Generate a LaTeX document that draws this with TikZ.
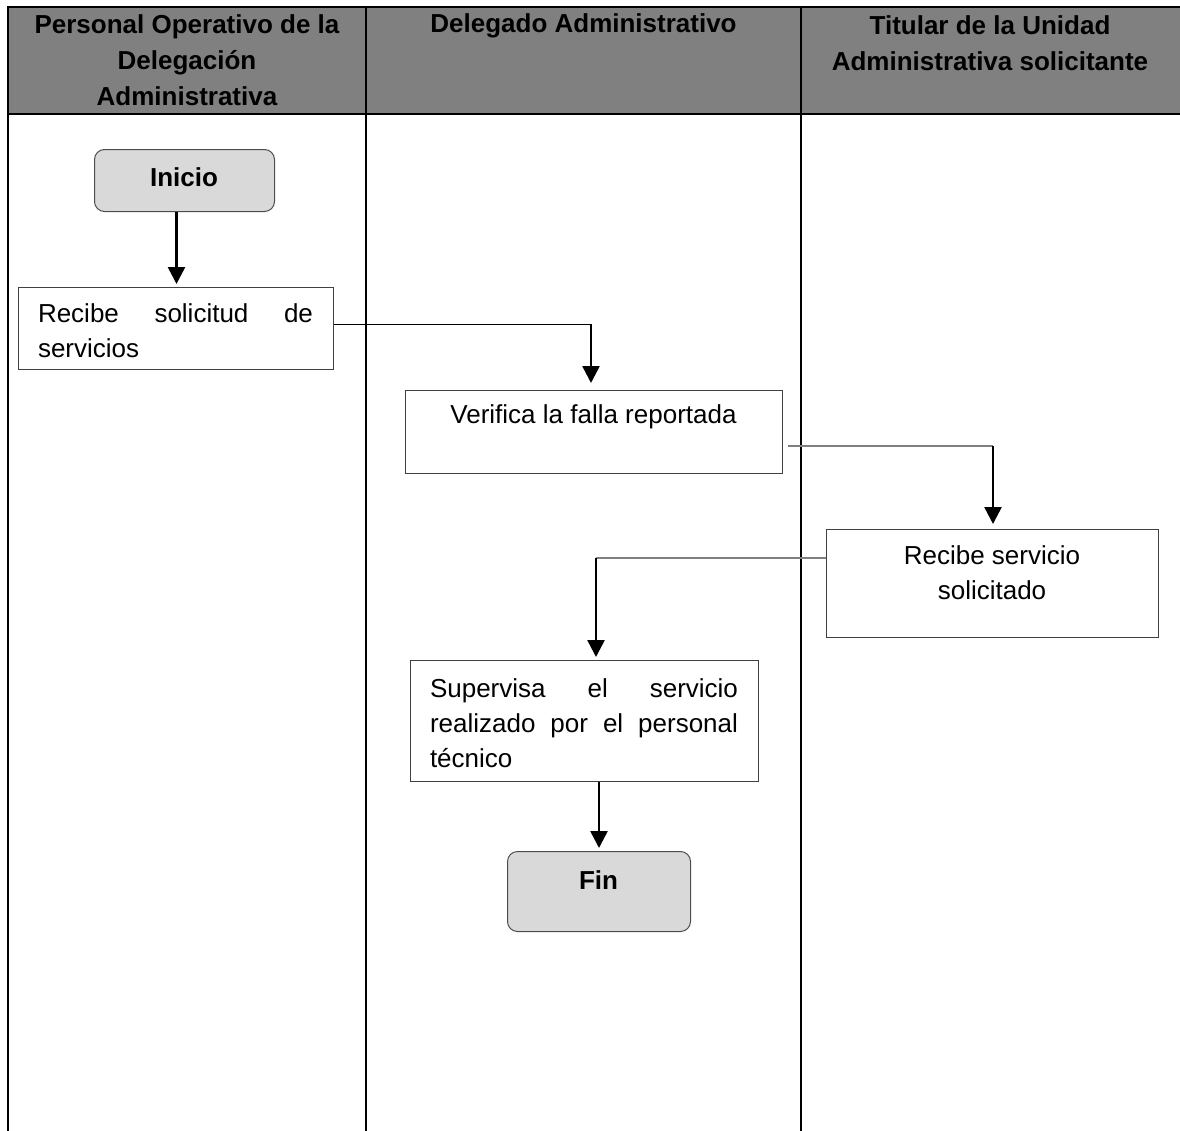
\documentclass[tikz,border=0pt]{standalone}
\usepackage{fontspec}
\setmainfont{Liberation Sans}
\usetikzlibrary{arrows.meta,calc}
\hyphenpenalty=10000
\tolerance=10000
\begin{document}
\begin{tikzpicture}[x=1pt,y=-1pt,
  lane/.style={line width=2pt},
  hdr/.style={font=\bfseries\fontsize{26}{36}\selectfont, align=center, inner sep=0},
  proc/.style={draw=black!75, line width=1pt, fill=white, inner sep=0, anchor=north west},
  term/.style={draw=black!70, line width=1pt, fill=black!15, rounded corners=10pt, inner sep=0, anchor=north west},
  body/.style={font=\fontsize{26}{35}\selectfont, inner sep=0},
  bbody/.style={font=\bfseries\fontsize{26}{35}\selectfont, inner sep=0},
  flow/.style={line width=2.5pt, -{Triangle[width=17pt,length=17pt]}},
  link/.style={line width=1pt, draw=black},
  glink/.style={line width=1.5pt, draw=black!50}
]
\useasboundingbox (0,0) rectangle (1180,1130);
% header band
\fill[black!50] (8,7) rectangle (1186,114);
\draw[lane] (1186,7) -- (8,7) -- (8,1132);
\draw[lane] (8,114) -- (1186,114);
\draw[lane] (366,7) -- (366,1132);
\draw[lane] (801,7) -- (801,1132);
\node[hdr] (h1) at (187,60) {Personal Operativo de la\\Delegación\\Administrativa};
\node[hdr] (h2) at (583.5,26) {Delegado Administrativo};
\node[hdr] (h3) at (990,43) {Titular de la Unidad\\Administrativa solicitante};

% shapes
\node[term, minimum width=180, minimum height=62] (ini) at (94,149) {};
\node[bbody] (ini-t) at (184,177) {Inicio};
\node[proc, minimum width=315, minimum height=82] (rec) at (18,287) {};
\node[body, text width=275, align=justify] (rec-t) at (175.5,331) {Recibe solicitud de servicios};
\node[proc, minimum width=377, minimum height=83] (ver) at (405,390) {};
\node[body] (ver-t) at (593.5,417) {Verifica la falla reportada};
\node[proc, minimum width=332, minimum height=108] (rs) at (826,529) {};
\node[body, align=center] (rs-t) at (992,573) {Recibe servicio\\solicitado};
\node[proc, minimum width=348, minimum height=121] (sup) at (410,660) {};
\node[body, text width=308, align=justify] (sup-t) at (584,723) {Supervisa el servicio realizado por el personal técnico};
\node[term, minimum width=183, minimum height=80] (fin) at (507,851) {};
\node[bbody] (fin-t) at (598.5,880) {Fin};

% connectors
\coordinate (c1) at (591,324);
\coordinate (c2) at (993,446);
\coordinate (c3) at (596,558);
\draw[flow, shorten >=3pt] ([xshift=-8pt]ini.south) -- ([xshift=-8pt]ini.south |- rec.north);
\draw[link] (rec.east |- c1) -- (c1);
\draw[flow, shorten >=7pt] (c1) -- (c1 |- ver.north);
\draw[glink] ($(ver.east |- c2)+(5,0)$) -- (c2);
\draw[flow, shorten >=5pt] (c2) -- (c2 |- rs.north);
\draw[glink] (rs.west |- c3) -- (c3);
\draw[flow, shorten >=3pt] (c3) -- (c3 |- sup.north);
\draw[flow, shorten >=3pt] (sup.south -| fin.north) -- (fin.north);
\end{tikzpicture}
\end{document}
